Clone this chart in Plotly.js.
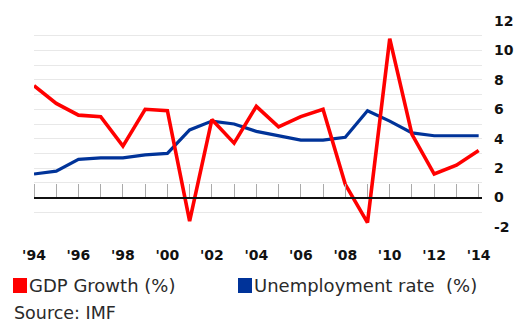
<!DOCTYPE html>
<html>
<head>
<meta charset="utf-8">
<script src="https://cdn.plot.ly/plotly-3.0.1.min.js"></script>
<style>html,body{margin:0;padding:0;background:#fff;}#chart{width:516px;height:325px;}</style>
</head>
<body>
<div id="chart"></div>
<script>
const years = [1994,1995,1996,1997,1998,1999,2000,2001,2002,2003,2004,2005,2006,2007,2008,2009,2010,2011,2012,2013,2014];
const gdpGrowth = [7.6,6.4,5.6,5.5,3.5,6.0,5.9,-1.6,5.3,3.7,6.2,4.8,5.5,6.0,0.9,-1.7,10.8,4.3,1.6,2.2,3.2];
const unemployment = [1.6,1.8,2.6,2.7,2.7,2.9,3.0,4.6,5.2,5.0,4.5,4.2,3.9,3.9,4.1,5.9,5.2,4.4,4.2,4.2,4.2];
const xTickVals = [1994,1996,1998,2000,2002,2004,2006,2008,2010,2012,2014];
const xTickText = ["'94","'96","'98","'00","'02","'04","'06","'08","'10","'12","'14"];
const yTickVals = [-2,-1,0,1,2,3,4,5,6,7,8,9,10,11,12];
const yTickText = ["-2","","0","","2","","4","","6","","8","","10","","12"];
const legendLabels = ["GDP Growth (%)", "Unemployment rate  (%)"];
const sourceText = "Source: IMF";

const RED = '#ff0000', BLUE = '#003399';
const FONT = 'DejaVu Sans';

const traces = [
  {x: years, y: unemployment, type: 'scatter', mode: 'lines', line: {color: BLUE, width: 3.2}, showlegend: false, hoverinfo: 'skip'},
  {x: years, y: gdpGrowth, type: 'scatter', mode: 'lines', line: {color: RED, width: 3.6}, showlegend: false, hoverinfo: 'skip'}
];

const xr = [1994, 2014.15];
const yr = [-2, 12];
const layout = {
  width: 516, height: 325,
  margin: {l: 34, r: 34, t: 21, b: 98, pad: 0},
  paper_bgcolor: '#fff', plot_bgcolor: '#fff',
  showlegend: false,
  xaxis: {
    range: xr, tickvals: xTickVals, ticktext: xTickText,
    showgrid: false, zeroline: false, showline: false, ticks: '',
    ticklabelstandoff: 18,
    tickfont: {family: FONT, size: 14, color: '#111', weight: 'bold'}
  },
  xaxis2: {
    range: xr, overlaying: 'x', anchor: 'free', side: 'top',
    position: (0 - yr[0]) / (yr[1] - yr[0]),
    dtick: 1, tick0: 1994, ticks: 'outside', ticklen: 13, tickcolor: '#aaaaaa', tickwidth: 1,
    showticklabels: false, showgrid: false, zeroline: false,
    showline: true, linecolor: '#111', linewidth: 2
  },
  yaxis: {
    range: yr, side: 'right', tickvals: yTickVals, ticktext: yTickText,
    showgrid: true, gridcolor: '#e8e8e8', gridwidth: 1,
    zeroline: false, showline: false, ticks: '',
    ticklabelstandoff: 11,
    tickfont: {family: FONT, size: 14, color: '#111', weight: 'bold'}
  },
  shapes: [
    {type: 'rect', xref: 'paper', yref: 'paper', x0: -21/448, x1: -7/448, y0: -66/206, y1: -51/206, fillcolor: RED, line: {width: 0}},
    {type: 'rect', xref: 'paper', yref: 'paper', x0: 204/448, x1: 218/448, y0: -66/206, y1: -51/206, fillcolor: BLUE, line: {width: 0}}
  ],
  annotations: [
    {text: legendLabels[0], xref: 'paper', yref: 'paper', x: -7/448, y: -58.5/206, xanchor: 'left', yanchor: 'middle', showarrow: false, font: {family: FONT, size: 18, color: '#2a2a2a'}},
    {text: legendLabels[1], xref: 'paper', yref: 'paper', x: 218/448, y: -58.5/206, xanchor: 'left', yanchor: 'middle', showarrow: false, font: {family: FONT, size: 18, color: '#2a2a2a'}},
    {text: sourceText, xref: 'paper', yref: 'paper', x: -22/448, y: -86/206, xanchor: 'left', yanchor: 'middle', showarrow: false, font: {family: FONT, size: 17.5, color: '#2a2a2a'}}
  ]
};
traces.push({x: [], y: [], xaxis: 'x2', type: 'scatter', showlegend: false});
Plotly.newPlot('chart', traces, layout, {staticPlot: true, displayModeBar: false});
</script>
</body>
</html>
